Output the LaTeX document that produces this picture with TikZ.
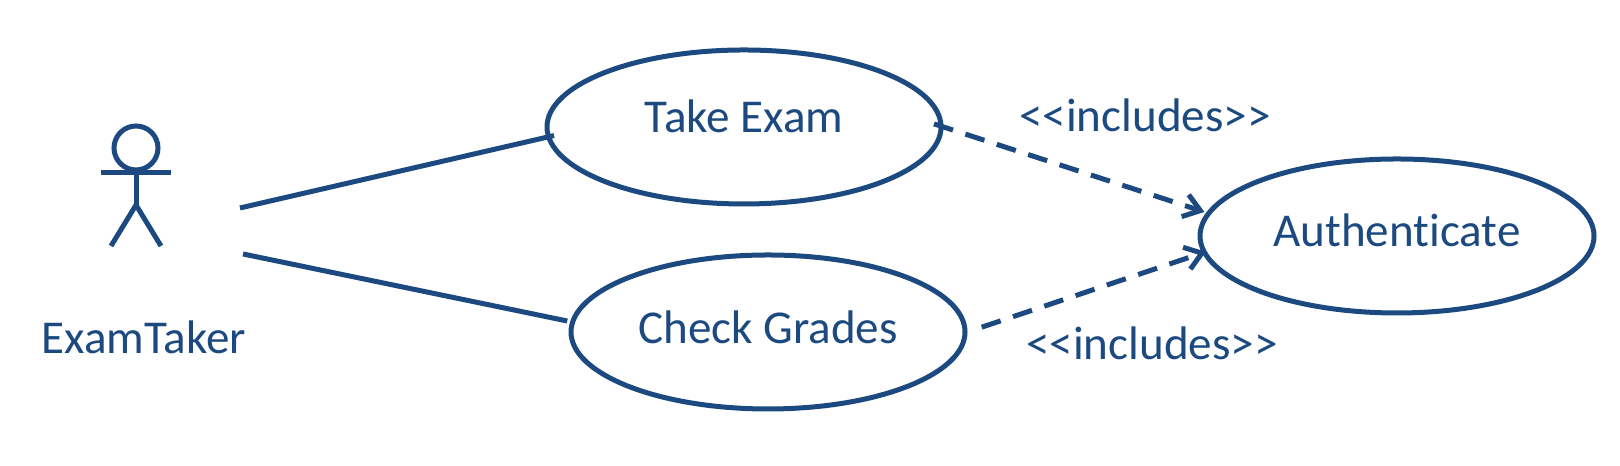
\documentclass[tikz,border=0pt]{standalone}
\usepackage{fontspec}
\setmainfont{Carlito}[Ligatures=NoCommon]
\usetikzlibrary{arrows.meta}
\usetikzlibrary{shapes.geometric}
\definecolor{umlblue}{HTML}{1C4A80}
\tikzset{>={Straight Barb[length=0.16cm, width=0.23cm]}}
\tikzset{umlline/.style={color=umlblue, line width=0.05cm}}
\tikzset{includes/.style={umlline, dash pattern=on 0.2cm off 0.13cm, ->}}
\tikzset{usecase/.style={ellipse, draw, umlline, text=umlblue, font=\fontsize{13.4}{16}\selectfont,
  minimum width=3.94cm, minimum height=1.54cm, inner sep=0pt, text height=0.36cm, text depth=0.24cm}}
\tikzset{umltext/.style={text=umlblue, font=\fontsize{13.4}{16}\selectfont, inner sep=0pt}}

\begin{document}
\begin{tikzpicture}
    \useasboundingbox(0, 0)rectangle(16.2, 4.66);
    \coordinate(line1)at(2.40, 2.58);
    \coordinate(line2)at(2.43, 2.12);
    \coordinate(hip)at(1.36, 2.61);
    \coordinate(handl)at(1.01, 2.93);
    \coordinate(handr)at(1.71, 2.93);
    \coordinate(footl)at(1.11, 2.20);
    \coordinate(footr)at(1.61, 2.20);
    % actor
    \node[circle, draw, umlline, minimum size=0.44cm, inner sep=0pt](head)at(1.36, 3.18){};
    \draw[umlline](head)--(hip);
    \draw[umlline](handl)--(handr);
    \draw[umlline](footl)--(hip)--(footr);
    \node[umltext](taker)at(1.44, 1.29){ExamTaker};
    % use cases
    \node[usecase](take)at(7.44, 3.39){Take Exam};
    \node[usecase, text height=0.42cm, text depth=0.18cm](check)at(7.68, 1.34){Check Grades};
    \node[usecase, text height=0.41cm, text depth=0.19cm](auth)at(13.97, 2.30){Authenticate};
    \draw[umlline, shorten >=-0.08cm](line1)--(take.183);
    \draw[umlline, shorten >=0.03cm](line2)--(check.177);
    \draw[includes, shorten <=-0.1cm, shorten >=0.02cm](take.east)--(auth.173);
    \draw[includes, shorten <=0.15cm, shorten >=-0.04cm](check.east)--(auth.185);
    \node[umltext](inc1)at(11.45, 3.51){{<}{<}includes{>}{>}};
    \node[umltext](inc2)at(11.52, 1.23){{<}{<}includes{>}{>}};
\end{tikzpicture}
\end{document}
